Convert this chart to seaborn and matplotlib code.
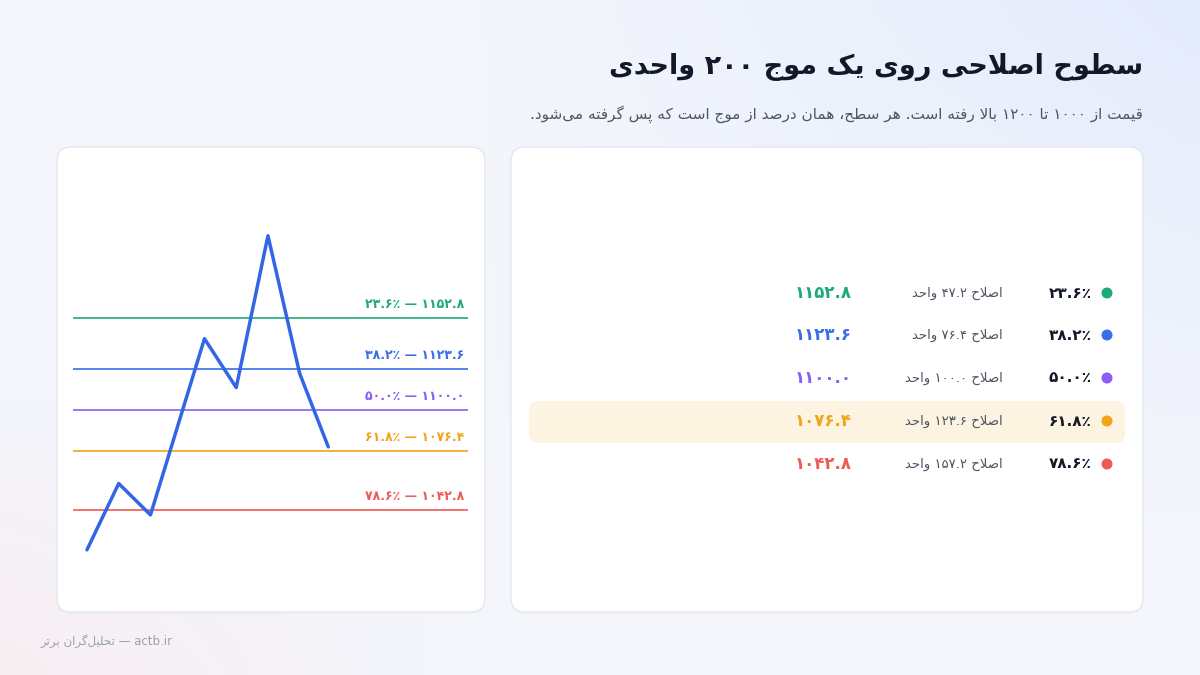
import numpy as np
import pandas as pd
import matplotlib
matplotlib.use("Agg")
import matplotlib.pyplot as plt
from matplotlib.patches import FancyBboxPatch, Circle
import seaborn as sns
import re

sns.set_theme(style="white")
plt.rcParams['font.family'] = ['DejaVu Sans', 'Noto Sans']

# ---------------- data ----------------
wave_x = [0, 1, 2, 3.7, 4.7, 5.7, 6.7, 7.6]
wave_price = [1020, 1058, 1040, 1141, 1113, 1200, 1121, 1079]
level_pct = ["۲۳.۶٪", "۳۸.۲٪", "۵۰.۰٪", "۶۱.۸٪", "۷۸.۶٪"]
level_price = [1152.8, 1123.6, 1100.0, 1076.4, 1042.8]
level_price_fa = ["۱۱۵۲.۸", "۱۱۲۳.۶", "۱۱۰۰.۰", "۱۰۷۶.۴", "۱۰۴۲.۸"]
level_retrace_fa = ["۴۷.۲", "۷۶.۴", "۱۰۰.۰", "۱۲۳.۶", "۱۵۷.۲"]
level_colors = ["#1FA97A", "#3A6EE8", "#8B5CF6", "#F0A416", "#EF5A55"]
title = "سطوح اصلاحی روی یک موج ۲۰۰ واحدی"
subtitle = "قیمت از ۱۰۰۰ تا ۱۲۰۰ بالا رفته است. هر سطح، همان درصد از موج است که پس گرفته می‌شود."
footer_fa = "تحلیل‌گران برتر"
footer_en = "actb.ir"

# ---------------- minimal Arabic shaping ----------------
F = {
 'ا': (0xFE8D, 0xFE8E, None, None), 'آ': (0xFE81, 0xFE82, None, None),
 'ب': (0xFE8F, 0xFE90, 0xFE91, 0xFE92), 'ت': (0xFE95, 0xFE96, 0xFE97, 0xFE98),
 'ث': (0xFE99, 0xFE9A, 0xFE9B, 0xFE9C), 'ج': (0xFE9D, 0xFE9E, 0xFE9F, 0xFEA0),
 'ح': (0xFEA1, 0xFEA2, 0xFEA3, 0xFEA4), 'خ': (0xFEA5, 0xFEA6, 0xFEA7, 0xFEA8),
 'د': (0xFEA9, 0xFEAA, None, None), 'ذ': (0xFEAB, 0xFEAC, None, None),
 'ر': (0xFEAD, 0xFEAE, None, None), 'ز': (0xFEAF, 0xFEB0, None, None),
 'س': (0xFEB1, 0xFEB2, 0xFEB3, 0xFEB4), 'ش': (0xFEB5, 0xFEB6, 0xFEB7, 0xFEB8),
 'ص': (0xFEB9, 0xFEBA, 0xFEBB, 0xFEBC), 'ض': (0xFEBD, 0xFEBE, 0xFEBF, 0xFEC0),
 'ط': (0xFEC1, 0xFEC2, 0xFEC3, 0xFEC4), 'ظ': (0xFEC5, 0xFEC6, 0xFEC7, 0xFEC8),
 'ع': (0xFEC9, 0xFECA, 0xFECB, 0xFECC), 'غ': (0xFECD, 0xFECE, 0xFECF, 0xFED0),
 'ف': (0xFED1, 0xFED2, 0xFED3, 0xFED4), 'ق': (0xFED5, 0xFED6, 0xFED7, 0xFED8),
 'ل': (0xFEDD, 0xFEDE, 0xFEDF, 0xFEE0), 'م': (0xFEE1, 0xFEE2, 0xFEE3, 0xFEE4),
 'ن': (0xFEE5, 0xFEE6, 0xFEE7, 0xFEE8), 'ه': (0xFEE9, 0xFEEA, 0xFEEB, 0xFEEC),
 'و': (0xFEED, 0xFEEE, None, None), 'پ': (0xFB56, 0xFB57, 0xFB58, 0xFB59),
 'چ': (0xFB7A, 0xFB7B, 0xFB7C, 0xFB7D), 'ژ': (0xFB8A, 0xFB8B, None, None),
 'ک': (0xFB8E, 0xFB8F, 0xFB90, 0xFB91), 'گ': (0xFB92, 0xFB93, 0xFB94, 0xFB95),
 'ی': (0xFBFC, 0xFBFD, 0xFBFE, 0xFBFF),
}

def dual(c):
    return c in F and F[c][2] is not None

def shape(s):
    out = []
    i = 0
    n = len(s)
    while i < n:
        c = s[i]
        prev = s[i - 1] if i > 0 else ''
        jp = dual(prev) and not (prev == 'ل' and c == 'ا')
        if c == 'ل' and i + 1 < n and s[i + 1] == 'ا':
            out.append(chr(0xFEFC if jp else 0xFEFB))
            i += 2
            continue
        if c in F:
            nxt = s[i + 1] if i + 1 < n else ''
            jn = dual(c) and nxt in F
            iso, fin, ini, med = F[c]
            if jp and jn:
                g = med
            elif jp:
                g = fin
            elif jn:
                g = ini
            else:
                g = iso
            out.append(chr(g))
        elif c != '\u200c':
            out.append(c)
        i += 1
    v = ''.join(out)[::-1]
    v = re.sub(r'[۰-۹0-9.]+', lambda m: m.group(0)[::-1], v)
    return v

# ---------------- figure ----------------
fig = plt.figure(figsize=(12, 6.75), dpi=100)
bg = fig.add_axes([0, 0, 1, 1])
bg.set_xlim(0, 1200)
bg.set_ylim(675, 0)
bg.axis('off')

gx = np.linspace(0, 1, 60)
gy = np.linspace(0, 1, 34)
X, Y = np.meshgrid(gx, gy)
base = np.array([0.957, 0.965, 0.988])
blue = np.array([0.89, 0.92, 0.985])
pink = np.array([0.975, 0.93, 0.945])
wb = np.clip((X - 0.4) * 1.6, 0, 1) * np.clip(1 - Y * 1.3, 0, 1)
wp = np.clip((0.35 - X) * 2.5, 0, 1) * np.clip((Y - 0.6) * 2.5, 0, 1)
img = base[None, None, :] * (1 - wb - wp)[..., None] + blue * wb[..., None] + pink * wp[..., None]
bg.imshow(img, extent=[0, 1200, 675, 0], aspect='auto', interpolation='bicubic', zorder=0)

def card(x0, y0, x1, y1):
    bg.add_patch(FancyBboxPatch((x0, y0 + 2), x1 - x0, y1 - y0, boxstyle="round,pad=0,rounding_size=14",
                                fc="#000000", ec="none", alpha=0.025, zorder=1))
    bg.add_patch(FancyBboxPatch((x0, y0), x1 - x0, y1 - y0, boxstyle="round,pad=0,rounding_size=14",
                                fc="white", ec="#E3E7EF", lw=1, zorder=2))

card(57, 147, 485, 612)
card(511, 147, 1143, 612)

bg.text(1143, 67, shape(title), ha='right', va='center', fontsize=19.5, fontweight='bold', color='#111827', zorder=5)
bg.text(1143, 114, shape(subtitle), ha='right', va='center', fontsize=11, color='#4B5563', zorder=5)
bg.text(40, 641, shape(footer_fa) + " — " + footer_en, ha='left', va='center', fontsize=8.5, color='#9AA1AE', zorder=5)

row_y = [293, 335, 378, 421, 464]
bg.add_patch(FancyBboxPatch((529, 401), 596, 42, boxstyle="round,pad=0,rounding_size=10",
                            fc="#FDF3E1", ec="none", zorder=3))
for i in range(len(level_pct)):
    y = row_y[i]
    bg.add_patch(Circle((1107, y), 5.5, fc=level_colors[i], ec='none', zorder=5))
    bg.text(1092, y, level_pct[i], ha='right', va='center', fontsize=11, fontweight='bold', color='#111827', zorder=5)
    bg.text(1003, y, shape("اصلاح " + level_retrace_fa[i] + " واحد"), ha='right', va='center',
            fontsize=9.5, color='#4B5563', zorder=5)
    bg.text(852, y, level_price_fa[i], ha='right', va='center', fontsize=12, fontweight='bold',
            color=level_colors[i], zorder=5)

ax = fig.add_axes([73 / 1200, 1 - 580 / 675, (468 - 73) / 1200, (580 - 200) / 675])
ax.set_facecolor('none')
df = pd.DataFrame({"x": wave_x, "price": wave_price})
sns.lineplot(data=df, x="x", y="price", ax=ax, color="#3366E6", lw=2.5, sort=False, zorder=4)
for i in range(len(level_price)):
    ax.axhline(level_price[i], color=level_colors[i], lw=1.2, zorder=3)
    ax.annotate(level_pct[i] + " — " + level_price_fa[i], xy=(1.0, level_price[i]),
                xycoords=('axes fraction', 'data'), xytext=(-3, 5), textcoords='offset points',
                ha='right', va='bottom', fontsize=9, fontweight='bold', color=level_colors[i])
ax.set_xlim(-0.44, 12.0)
ax.set_ylim(1002.7, 1220.5)
ax.axis('off')

fig.savefig("out.png", dpi=100)
